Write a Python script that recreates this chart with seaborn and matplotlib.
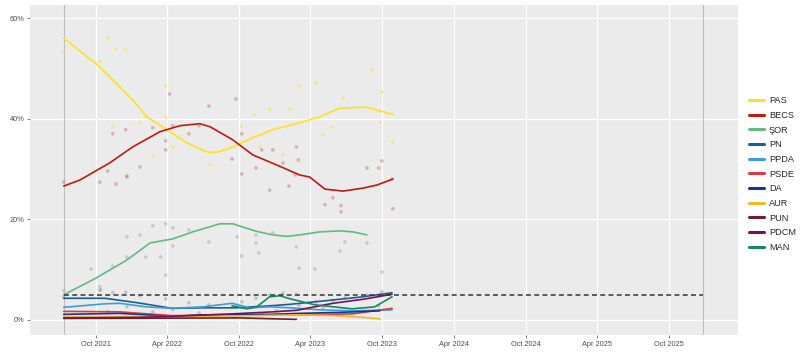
import numpy as np
import pandas as pd
import matplotlib
matplotlib.use("Agg")
import matplotlib.pyplot as plt
import matplotlib.dates as mdates
from matplotlib.lines import Line2D
import seaborn as sns

# ---------------- data ----------------
parties = ["PAS", "BECS", "ŞOR", "PN", "PPDA", "PSDE", "DA", "AUR", "PUN", "PDCM", "MAN"]
colors = ["#FFE21F", "#BE1A12", "#63BA7F", "#1D5F8C", "#3B9DDB", "#E0383F",
          "#0D3A8E", "#F2B822", "#6E1F2C", "#7A0F58", "#12895F"]

pas_dates = ["2021-07-11", "2021-10-11", "2022-01-03", "2022-02-08", "2022-03-31", "2022-05-21",
             "2022-07-11", "2022-08-05", "2022-09-15", "2022-11-05", "2022-12-26", "2023-03-05",
             "2023-04-25", "2023-06-15", "2023-08-23", "2023-10-28"]
pas_vals = [56.0, 50.3, 43.7, 40.4, 37.8, 35.2, 33.4, 33.3, 34.4, 36.2, 37.8, 39.2, 40.4, 42.1, 42.3, 40.8]

becs_dates = ["2021-07-11", "2021-08-21", "2021-11-05", "2022-01-03", "2022-03-13", "2022-05-03",
              "2022-06-23", "2022-07-19", "2022-09-15", "2022-11-05", "2023-01-05", "2023-03-05",
              "2023-03-30", "2023-05-08", "2023-06-23", "2023-08-13", "2023-09-17", "2023-10-28"]
becs_vals = [26.6, 27.8, 31.2, 34.4, 37.4, 38.6, 39.0, 38.4, 35.8, 32.8, 30.8, 28.8, 28.4, 26.0,
             25.6, 26.2, 26.8, 28.0]

sor_dates = ["2021-07-11", "2021-10-01", "2021-12-19", "2022-02-16", "2022-03-31", "2022-04-15",
             "2022-06-05", "2022-08-13", "2022-09-15", "2022-10-21", "2022-11-15", "2022-12-26",
             "2023-01-31", "2023-03-05", "2023-04-25", "2023-06-15", "2023-07-18", "2023-08-23"]
sor_vals = [5.0, 8.3, 11.9, 15.3, 15.9, 16.1, 17.5, 19.1, 19.1, 18.2, 17.6, 16.9, 16.6, 16.9,
            17.5, 17.7, 17.5, 16.9]

pn_dates = ["2021-07-11", "2021-10-24", "2022-01-16", "2022-04-13", "2022-07-01", "2022-09-23",
            "2022-12-18", "2023-02-08", "2023-06-02", "2023-08-13", "2023-10-26"]
pn_vals = [4.3, 4.3, 3.4, 2.3, 2.4, 2.4, 2.8, 3.1, 4.0, 4.6, 5.4]

ppda_dates = ["2021-07-11", "2021-10-24", "2021-12-01", "2022-02-05", "2022-04-13", "2022-07-01",
              "2022-09-13", "2022-10-29", "2022-12-18", "2023-02-08", "2023-04-25", "2023-07-18",
              "2023-10-26"]
ppda_vals = [2.5, 3.2, 3.3, 2.6, 2.3, 2.6, 3.3, 2.4, 2.6, 2.4, 2.0, 1.8, 2.0]

psde_dates = ["2021-07-11", "2021-12-01", "2022-04-13", "2022-09-15", "2023-03-05", "2023-07-18",
              "2023-10-26"]
psde_vals = [1.7, 1.6, 0.85, 1.0, 1.0, 1.2, 2.3]

da_dates = ["2021-07-11", "2021-12-01", "2022-04-13", "2022-07-01", "2022-12-18", "2023-03-05",
            "2023-06-15", "2023-09-25"]
da_vals = [1.1, 1.3, 0.7, 1.0, 1.1, 1.3, 1.5, 1.8]

aur_dates = ["2021-07-11", "2022-04-13", "2022-10-01", "2023-03-05", "2023-06-02", "2023-08-13",
             "2023-09-25"]
aur_vals = [0.66, 0.66, 0.8, 1.0, 0.85, 0.5, 0.2]

pun_dates = ["2021-07-11", "2022-04-13", "2022-10-01", "2023-02-24"]
pun_vals = [0.3, 0.35, 0.4, 0.1]

pdcm_dates = ["2021-07-11", "2022-01-16", "2022-04-13", "2022-09-15", "2022-12-26", "2023-02-24",
              "2023-05-28", "2023-08-13", "2023-10-26"]
pdcm_vals = [0.4, 0.5, 0.7, 1.2, 1.6, 1.9, 3.3, 4.1, 5.1]

man_dates = ["2022-09-13", "2022-10-21", "2022-11-15", "2022-12-18", "2023-01-13", "2023-02-08",
             "2023-04-12", "2023-07-16", "2023-09-12", "2023-10-26"]
man_vals = [2.8, 2.2, 2.6, 4.6, 4.8, 4.2, 3.0, 2.2, 2.6, 4.6]

trend_dates = [pas_dates, becs_dates, sor_dates, pn_dates, ppda_dates, psde_dates, da_dates,
               aur_dates, pun_dates, pdcm_dates, man_dates]
trend_vals = [pas_vals, becs_vals, sor_vals, pn_vals, ppda_vals, psde_vals, da_vals,
              aur_vals, pun_vals, pdcm_vals, man_vals]

# poll points (faint)
pas_poll_dates = ["2021-07-11", "2021-10-31", "2021-11-21", "2021-12-16", "2021-10-11", "2022-03-28",
                  "2022-02-05", "2022-03-28", "2021-11-13", "2022-01-21", "2022-02-23", "2022-07-19",
                  "2022-10-08", "2022-11-08", "2022-12-18", "2023-02-08", "2023-03-03", "2023-04-15",
                  "2023-05-03", "2023-06-23", "2023-09-05", "2023-09-30", "2023-09-25", "2023-10-28",
                  "2022-04-15", "2023-01-21", "2022-11-23", "2023-05-28"]
pas_poll_vals = [53.3, 56.1, 53.8, 53.8, 51.3, 46.5, 40.4, 40.2, 38.4, 39.2, 32.6, 30.8, 38.4, 40.8,
                 41.8, 41.9, 46.5, 47.1, 36.8, 44.1, 49.7, 45.3, 39.2, 35.4, 34.4, 32.8, 34.4, 38.4]

becs_poll_dates = ["2021-07-11", "2021-11-13", "2021-12-16", "2022-01-21", "2022-02-23", "2022-03-28",
                   "2022-03-28", "2022-04-07", "2022-04-15", "2022-05-26", "2022-06-21", "2022-07-16",
                   "2022-09-13", "2022-09-23", "2022-10-08", "2022-10-08", "2022-11-13", "2022-11-28",
                   "2022-12-26", "2023-01-21", "2023-02-24", "2023-03-01", "2023-02-21", "2023-08-23",
                   "2023-09-22", "2023-09-30", "2023-10-26", "2021-10-31", "2021-12-19", "2021-10-11",
                   "2021-11-21", "2021-12-19", "2023-05-28", "2023-06-18", "2023-06-18", "2023-05-08",
                   "2023-10-28", "2022-12-18", "2023-02-05"]
becs_poll_vals = [27.4, 37.0, 37.8, 30.4, 38.2, 35.6, 33.8, 44.9, 38.6, 37.0, 38.6, 42.5, 32.0, 43.9,
                  37.0, 29.0, 30.2, 33.8, 33.8, 31.2, 34.4, 31.8, 28.8, 30.2, 30.2, 31.6, 28.0, 29.6,
                  28.6, 27.4, 27.0, 28.4, 24.3, 21.5, 22.7, 22.9, 22.1, 25.8, 26.6]

sor_poll_dates = ["2021-09-19", "2021-10-11", "2021-10-13", "2021-11-13", "2021-12-19", "2021-12-19",
                  "2022-01-21", "2022-02-05", "2022-02-23", "2022-03-28", "2022-03-15", "2022-03-28",
                  "2022-04-15", "2022-04-15", "2022-05-26", "2022-07-16", "2022-09-26", "2022-10-08",
                  "2022-11-13", "2022-11-13", "2022-11-20", "2022-12-26", "2023-02-24", "2023-03-03",
                  "2023-04-12", "2023-06-15", "2023-06-28", "2023-08-23", "2021-07-11", "2023-09-30"]
sor_poll_vals = [10.1, 6.6, 6.0, 10.7, 16.5, 12.5, 16.9, 12.5, 18.7, 19.1, 12.5, 8.9, 14.7, 18.3,
                 17.9, 15.5, 16.5, 12.7, 16.9, 15.3, 13.3, 17.3, 14.5, 10.3, 10.1, 13.7, 15.5,
                 15.3, 5.8, 9.5]

small_poll_dates = ["2021-07-11", "2021-10-11", "2021-11-13", "2021-12-16", "2022-01-21", "2022-03-28",
                    "2022-05-26", "2022-07-16", "2022-09-23", "2022-11-13", "2022-12-18", "2023-01-21",
                    "2023-02-24", "2023-04-15", "2023-05-28", "2023-06-28", "2023-08-23", "2023-09-30",
                    "2021-10-31", "2021-12-19", "2022-02-23", "2022-04-15", "2022-06-21", "2022-10-08",
                    "2022-11-28", "2023-01-05", "2023-03-03", "2023-05-03", "2023-07-16", "2023-09-22"]
small_poll_vals = [4.6, 5.9, 5.4, 5.5, 4.8, 4.2, 3.4, 3.0, 2.7, 4.3, 4.9, 5.3, 5.1, 3.6, 3.9, 4.4,
                   4.9, 5.6, 1.7, 2.6, 1.6, 2.1, 1.4, 3.6, 1.2, 1.8, 2.9, 2.3, 1.5, 2.8]

election_dates = ["2021-07-11", "2025-12-26"]
threshold = 5.0
tick_dates = ["2021-10-01", "2022-04-01", "2022-10-01", "2023-04-01", "2023-10-01",
              "2024-04-01", "2024-10-01", "2025-04-01", "2025-10-01"]
tick_labels = ["Oct 2021", "Apr 2022", "Oct 2022", "Apr 2023", "Oct 2023",
               "Apr 2024", "Oct 2024", "Apr 2025", "Oct 2025"]
y_ticks = [0, 20, 40, 60]
y_labels = ["0%", "20%", "40%", "60%"]

# ---------------- build tables ----------------
rows = []
for p, ds, vs in zip(parties, trend_dates, trend_vals):
    for d, v in zip(ds, vs):
        rows.append((p, pd.Timestamp(d), v))
trend = pd.DataFrame(rows, columns=["party", "date", "value"])

prow = []
for p, ds, vs in [("PAS", pas_poll_dates, pas_poll_vals), ("BECS", becs_poll_dates, becs_poll_vals),
                  ("ŞOR", sor_poll_dates, sor_poll_vals), ("PN", small_poll_dates, small_poll_vals)]:
    for d, v in zip(ds, vs):
        prow.append((p, pd.Timestamp(d), v))
polls = pd.DataFrame(prow, columns=["party", "date", "value"])

palette = dict(zip(parties, colors))
poll_palette = {"PAS": "#F3E25A", "BECS": "#C9838A", "ŞOR": "#A9B3AA", "PN": "#9AA3B2"}

# ---------------- plot ----------------
sns.set_theme(style="darkgrid")
plt.rcParams["font.family"] = ["Liberation Sans", "DejaVu Sans"]

fig = plt.figure(figsize=(8.0, 3.56), dpi=100)
fig.patch.set_facecolor("white")
ax = fig.add_axes([0.0375, 0.059, 0.885, 0.927])
ax.set_facecolor("#EBEBEB")

sns.scatterplot(data=polls, x="date", y="value", hue="party", palette=poll_palette,
                s=7, alpha=0.55, linewidth=0, legend=False, ax=ax, zorder=2)

sns.lineplot(data=trend, x="date", y="value", hue="party", hue_order=parties,
             palette=palette, estimator=None, sort=True, linewidth=1.2,
             legend=False, ax=ax, zorder=3)

# threshold line and election markers
ax.plot([pd.Timestamp(election_dates[0]), pd.Timestamp(election_dates[1])], [threshold, threshold],
        linestyle=(0, (3.2, 2.2)), color="#333333", linewidth=1.1, zorder=4)
for d in election_dates:
    ax.axvline(pd.Timestamp(d), color="#BDBDBD", linewidth=0.8, zorder=1)

ax.set_xlim(pd.Timestamp("2021-04-16"), pd.Timestamp("2026-03-26"))
ax.set_ylim(-3.0, 62.6)
ax.set_xticks([pd.Timestamp(d) for d in tick_dates])
ax.set_xticklabels(tick_labels)
ax.set_yticks(y_ticks)
ax.set_yticklabels(y_labels)
ax.grid(True, color="white", linewidth=0.9)
ax.tick_params(axis="both", labelsize=5.3, colors="#4D4D4D", length=2, width=0.5, pad=2)
ax.tick_params(axis="both", which="both", bottom=True, left=True)
for lab in ax.get_xticklabels() + ax.get_yticklabels():
    lab.set_color("#4D4D4D")
ax.set_xlabel("")
ax.set_ylabel("")
for s in ax.spines.values():
    s.set_visible(False)

handles = [Line2D([0], [0], color=c, linewidth=2.2) for c in colors]
fig.legend(handles, parties, loc="center left", bbox_to_anchor=(0.928, 0.511),
           frameon=False, fontsize=6.6, handlelength=1.7, handletextpad=0.5,
           labelspacing=0.62, borderpad=0.2)

fig.savefig("out.png", dpi=100, facecolor="white")
